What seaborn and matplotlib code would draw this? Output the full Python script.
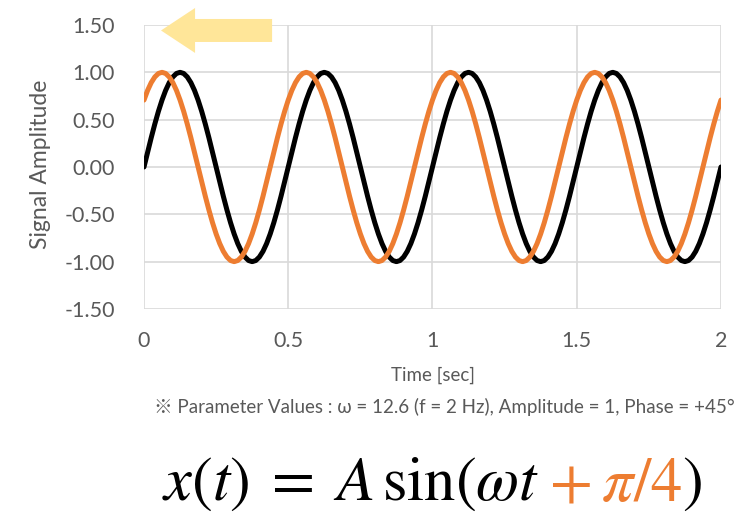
import numpy as np
import pandas as pd
import matplotlib
matplotlib.use("Agg")
import matplotlib.pyplot as plt
import seaborn as sns
from matplotlib.patches import FancyArrow
from matplotlib.offsetbox import TextArea, HPacker, AnnotationBbox
from matplotlib.ticker import StrMethodFormatter, FixedLocator

# ---------------------------------------------------------------------------
# Dati (letti dal grafico, campionati ogni 0.0125 s)
# ---------------------------------------------------------------------------

time_step = 0.0125
n_punti = 161
time_sec = [round(i * time_step, 4) for i in range(n_punti)]

# x(t) = A sin(wt)  -- curva nera
segnale_base = [
    0.000, 0.156, 0.309, 0.454, 0.588, 0.707, 0.809, 0.891, 0.951, 0.988,
    1.000, 0.988, 0.951, 0.891, 0.809, 0.707, 0.588, 0.454, 0.309, 0.156,
    0.000, -0.156, -0.309, -0.454, -0.588, -0.707, -0.809, -0.891, -0.951, -0.988,
    -1.000, -0.988, -0.951, -0.891, -0.809, -0.707, -0.588, -0.454, -0.309, -0.156,
    0.000, 0.156, 0.309, 0.454, 0.588, 0.707, 0.809, 0.891, 0.951, 0.988,
    1.000, 0.988, 0.951, 0.891, 0.809, 0.707, 0.588, 0.454, 0.309, 0.156,
    0.000, -0.156, -0.309, -0.454, -0.588, -0.707, -0.809, -0.891, -0.951, -0.988,
    -1.000, -0.988, -0.951, -0.891, -0.809, -0.707, -0.588, -0.454, -0.309, -0.156,
    0.000, 0.156, 0.309, 0.454, 0.588, 0.707, 0.809, 0.891, 0.951, 0.988,
    1.000, 0.988, 0.951, 0.891, 0.809, 0.707, 0.588, 0.454, 0.309, 0.156,
    0.000, -0.156, -0.309, -0.454, -0.588, -0.707, -0.809, -0.891, -0.951, -0.988,
    -1.000, -0.988, -0.951, -0.891, -0.809, -0.707, -0.588, -0.454, -0.309, -0.156,
    0.000, 0.156, 0.309, 0.454, 0.588, 0.707, 0.809, 0.891, 0.951, 0.988,
    1.000, 0.988, 0.951, 0.891, 0.809, 0.707, 0.588, 0.454, 0.309, 0.156,
    0.000, -0.156, -0.309, -0.454, -0.588, -0.707, -0.809, -0.891, -0.951, -0.988,
    -1.000, -0.988, -0.951, -0.891, -0.809, -0.707, -0.588, -0.454, -0.309, -0.156,
    0.000,
]

# x(t) = A sin(wt + pi/4)  -- curva arancione
segnale_sfasato = [
    0.707, 0.809, 0.891, 0.951, 0.988, 1.000, 0.988, 0.951, 0.891, 0.809,
    0.707, 0.588, 0.454, 0.309, 0.156, 0.000, -0.156, -0.309, -0.454, -0.588,
    -0.707, -0.809, -0.891, -0.951, -0.988, -1.000, -0.988, -0.951, -0.891, -0.809,
    -0.707, -0.588, -0.454, -0.309, -0.156, 0.000, 0.156, 0.309, 0.454, 0.588,
    0.707, 0.809, 0.891, 0.951, 0.988, 1.000, 0.988, 0.951, 0.891, 0.809,
    0.707, 0.588, 0.454, 0.309, 0.156, 0.000, -0.156, -0.309, -0.454, -0.588,
    -0.707, -0.809, -0.891, -0.951, -0.988, -1.000, -0.988, -0.951, -0.891, -0.809,
    -0.707, -0.588, -0.454, -0.309, -0.156, 0.000, 0.156, 0.309, 0.454, 0.588,
    0.707, 0.809, 0.891, 0.951, 0.988, 1.000, 0.988, 0.951, 0.891, 0.809,
    0.707, 0.588, 0.454, 0.309, 0.156, 0.000, -0.156, -0.309, -0.454, -0.588,
    -0.707, -0.809, -0.891, -0.951, -0.988, -1.000, -0.988, -0.951, -0.891, -0.809,
    -0.707, -0.588, -0.454, -0.309, -0.156, 0.000, 0.156, 0.309, 0.454, 0.588,
    0.707, 0.809, 0.891, 0.951, 0.988, 1.000, 0.988, 0.951, 0.891, 0.809,
    0.707, 0.588, 0.454, 0.309, 0.156, 0.000, -0.156, -0.309, -0.454, -0.588,
    -0.707, -0.809, -0.891, -0.951, -0.988, -1.000, -0.988, -0.951, -0.891, -0.809,
    -0.707, -0.588, -0.454, -0.309, -0.156, 0.000, 0.156, 0.309, 0.454, 0.588,
    0.707,
]

x_ticks = [0, 0.5, 1, 1.5, 2]
y_ticks = [-1.5, -1.0, -0.5, 0.0, 0.5, 1.0, 1.5]

nota_parametri = "※ Parameter Values : ω = 12.6 (f = 2 Hz), Amplitude = 1, Phase = +45°"

# ---------------------------------------------------------------------------
# Configurazione
# ---------------------------------------------------------------------------

sns.set_theme(style="white")
plt.rcParams["font.family"] = ["Lato", "Noto Sans CJK JP", "DejaVu Sans"]
plt.rcParams["axes.unicode_minus"] = False
plt.rcParams["mathtext.fontset"] = "stix"

GRIGIO_TESTO = "#595959"
GRIGIO_GRIGLIA = "#D9D9D9"
NERO = "#000000"
ARANCIO = "#ED7D31"

df = pd.DataFrame({
    "time": time_sec * 2,
    "amp": segnale_base + segnale_sfasato,
    "serie": ["base"] * n_punti + ["sfasato"] * n_punti,
})

fig = plt.figure(figsize=(7.5, 5.13), dpi=100)
ax = fig.add_axes([0.192, 0.3977, 0.7693, 0.5536])

sns.lineplot(
    data=df, x="time", y="amp", hue="serie",
    palette={"base": NERO, "sfasato": ARANCIO},
    linewidth=3.6, legend=False, ax=ax, zorder=3,
)

ax.set_xlim(0, 2)
ax.set_ylim(-1.5, 1.5)
ax.xaxis.set_major_locator(FixedLocator(x_ticks))
ax.yaxis.set_major_locator(FixedLocator(y_ticks))
ax.xaxis.set_major_formatter(StrMethodFormatter("{x:g}"))
ax.yaxis.set_major_formatter(StrMethodFormatter("{x:.2f}"))
ax.tick_params(axis="both", length=0, labelsize=15.5, labelcolor=GRIGIO_TESTO)
ax.tick_params(axis="y", pad=21)
ax.tick_params(axis="x", pad=16)
ax.grid(True, color=GRIGIO_GRIGLIA, linewidth=1.2, zorder=0)
for s in ax.spines.values():
    s.set_visible(False)
ax.set_xlabel("")
ax.set_ylabel("")

fig.text(0.054, 0.68, "Signal Amplitude", rotation=90, ha="center", va="center",
         fontsize=16.5, color=GRIGIO_TESTO)
fig.text(0.577, 0.269, "Time [sec]", ha="center", va="center",
         fontsize=13.5, color=GRIGIO_TESTO)
fig.text(0.592, 0.207, nota_parametri, ha="center", va="center",
         fontsize=13.5, color=GRIGIO_TESTO)

# freccia gialla decorativa
freccia = FancyArrow(0.444, 1.442, -0.385, 0.0, width=0.243, head_width=0.475,
                     head_length=0.118, length_includes_head=True,
                     color="#FFE699", linewidth=0, clip_on=False, zorder=4)
ax.add_patch(freccia)

# formula con la fase in arancione
fs = 45
parti = [
    TextArea(r"$x(t)\;=\;A\,\sin(\omega t$", textprops=dict(fontsize=fs, color=NERO)),
    TextArea(r"$\:+\:\pi/4$", textprops=dict(fontsize=fs, color=ARANCIO)),
    TextArea(r"$)$", textprops=dict(fontsize=fs, color=NERO)),
]
riga = HPacker(children=parti, align="baseline", pad=0, sep=0)
ab = AnnotationBbox(riga, (0.576, 0.058), xycoords="figure fraction",
                    frameon=False, box_alignment=(0.5, 0.5), annotation_clip=False)
ax.add_artist(ab)

fig.savefig("out.png", dpi=100)
plt.close(fig)
